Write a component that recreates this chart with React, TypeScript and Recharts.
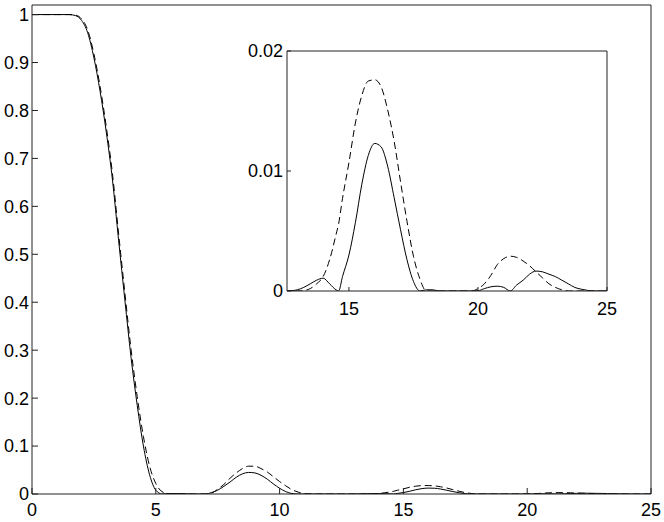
import { LineChart, Line, XAxis, YAxis } from "recharts";

// sample positions shared by both curves
const xs = [
  0, 0.5, 1, 1.5, 1.75, 2, 2.25, 2.5, 2.75, 3, 3.25, 3.5, 3.75, 4, 4.25, 4.5, 4.75, 5, 5.25, 5.5,
  6, 6.5, 7, 7.25, 7.5, 7.75, 8, 8.25, 8.5, 8.75, 9, 9.25, 9.5, 9.75, 10, 10.25, 10.5, 10.75, 11, 11.5,
  12, 12.5, 12.75, 13, 13.25, 13.5, 13.75, 14, 14.25, 14.5, 14.6, 14.75, 15, 15.25, 15.5, 15.75, 16, 16.25, 16.5, 16.75,
  17, 17.25, 17.5, 17.75, 18, 18.25, 18.5, 19, 19.5, 19.75, 20, 20.25, 20.5, 20.75, 21, 21.25, 21.5, 21.75, 22, 22.25,
  22.5, 22.75, 23, 23.25, 23.5, 23.75, 24, 24.25, 24.5, 25,
];

const solid = [
  1, 1, 1, 1, 0.998, 0.988, 0.962, 0.91, 0.84, 0.755, 0.655, 0.528, 0.405, 0.285, 0.185, 0.1, 0.04, 0.008, 0, 0.001,
  0.001, 0, 0, 0.003, 0.008, 0.016, 0.025, 0.035, 0.042, 0.045, 0.044, 0.039, 0.031, 0.021, 0.012, 0.005, 0.001, 0, 0, 0,
  0, 0, 0.00002, 0.0001, 0.0003, 0.0006, 0.0009, 0.00107, 0.0006, 0.0001, 0, 0.0012, 0.003, 0.0057, 0.0089, 0.0113, 0.0123, 0.012, 0.0104, 0.0078,
  0.0051, 0.0026, 0.0008, 0, 0.0001, 0.0001, 0, 0, 0, 0, 0.00002, 0.0002, 0.00035, 0.0004, 0.0003, 0, 0.0005, 0.0009, 0.0014, 0.00166,
  0.0016, 0.0014, 0.0012, 0.0009, 0.0006, 0.0003, 0.00015, 0.00005, 0, 0,
];

const dashed = [
  1, 1, 1, 1, 0.999, 0.991, 0.968, 0.918, 0.85, 0.766, 0.668, 0.542, 0.42, 0.302, 0.203, 0.12, 0.058, 0.022, 0.005, 0.001,
  0, 0, 0, 0.002, 0.01, 0.02, 0.033, 0.044, 0.053, 0.058, 0.058, 0.053, 0.046, 0.036, 0.026, 0.017, 0.009, 0.004, 0.001, 0,
  0, 0, 0, 0, 0.00003, 0.0002, 0.0006, 0.0012, 0.0026, 0.0047, 0.0056, 0.0077, 0.0107, 0.014, 0.0163, 0.0175, 0.0176, 0.017, 0.0151, 0.0125,
  0.0091, 0.0058, 0.0029, 0.001, 0, 0, 0, 0, 0, 0, 0.0002, 0.0006, 0.0013, 0.0022, 0.0027, 0.0029, 0.0028, 0.0025, 0.0021, 0.0016,
  0.0011, 0.0006, 0.0003, 0.0001, 0, 0, 0, 0, 0, 0,
];

const mainXTicks = [0, 5, 10, 15, 20, 25];
const mainYTicks = [0, 0.1, 0.2, 0.3, 0.4, 0.5, 0.6, 0.7, 0.8, 0.9, 1];
const insetXTicks = [15, 20, 25];
const insetYTicks = [0, 0.01, 0.02];

const rows = xs.map((x, i) => ({ x, solid: solid[i], dashed: dashed[i] }));
const insetRows = rows.filter((r) => r.x >= 12.5);

const tickFont = { fontFamily: '"Liberation Sans", Arial, Helvetica, sans-serif', fontSize: 18, fill: "#000" };
const axisStroke = "#222";

// invisible copy so the top/right box axes get a series of their own
function boxLine() {
  return (
    <Line xAxisId="top" yAxisId="right" type="monotone" dataKey="solid" stroke="none" dot={false}
      activeDot={false} isAnimationActive={false} />
  );
}

export default function App() {
  return (
    <div style={{ position: "absolute", left: 0, top: 0, width: 664, height: 522, background: "#fff" }}>
      <LineChart width={664} height={522} data={rows} margin={{ top: 4, right: 12, left: 0, bottom: 0 }}>
        <XAxis dataKey="x" type="number" domain={[0, 25]} ticks={mainXTicks} height={28} tickSize={-6} tickMargin={15}
          tick={tickFont} stroke={axisStroke} interval={0} />
        <XAxis xAxisId="top" orientation="top" dataKey="x" type="number" domain={[0, 25]} ticks={mainXTicks} height={1}
          tickSize={-6} tick={false} stroke={axisStroke} interval={0} />
        <YAxis type="number" domain={[0, 1.02]} ticks={mainYTicks} width={32} tickSize={-6} tickMargin={9}
          tick={tickFont} stroke={axisStroke} interval={0} allowDataOverflow />
        <YAxis yAxisId="right" orientation="right" type="number" domain={[0, 1.02]} ticks={mainYTicks} width={1}
          tickSize={-6} tick={false} stroke={axisStroke} interval={0} allowDataOverflow />
        {boxLine()}
        <Line type="monotone" dataKey="dashed" stroke="#000" strokeWidth={1} strokeDasharray="7 4" dot={false}
          activeDot={false} isAnimationActive={false} />
        <Line type="monotone" dataKey="solid" stroke="#000" strokeWidth={1} dot={false} activeDot={false}
          isAnimationActive={false} />
      </LineChart>

      <div style={{ position: "absolute", left: 237, top: 40 }}>
        <LineChart width={401} height={281} data={insetRows} margin={{ top: 10, right: 30, left: 0, bottom: 0 }}>
          <XAxis dataKey="x" type="number" domain={[12.6, 25]} ticks={insetXTicks} height={30} tickSize={-4}
            tickMargin={15} tick={tickFont} stroke={axisStroke} interval={0} allowDataOverflow />
          <XAxis xAxisId="top" orientation="top" dataKey="x" type="number" domain={[12.6, 25]} ticks={insetXTicks}
            height={1} tickSize={-4} tick={false} stroke={axisStroke} interval={0} allowDataOverflow />
          <YAxis type="number" domain={[0, 0.02]} ticks={insetYTicks} width={50} tickSize={-4} tickMargin={8}
            tick={tickFont} stroke={axisStroke} interval={0} allowDataOverflow />
          <YAxis yAxisId="right" orientation="right" type="number" domain={[0, 0.02]} ticks={insetYTicks} width={1}
            tickSize={-4} tick={false} stroke={axisStroke} interval={0} allowDataOverflow />
          {boxLine()}
          <Line type="monotone" dataKey="dashed" stroke="#000" strokeWidth={1} strokeDasharray="7 4" dot={false}
            activeDot={false} isAnimationActive={false} />
          <Line type="monotone" dataKey="solid" stroke="#000" strokeWidth={1} dot={false} activeDot={false}
            isAnimationActive={false} />
        </LineChart>
      </div>
    </div>
  );
}
